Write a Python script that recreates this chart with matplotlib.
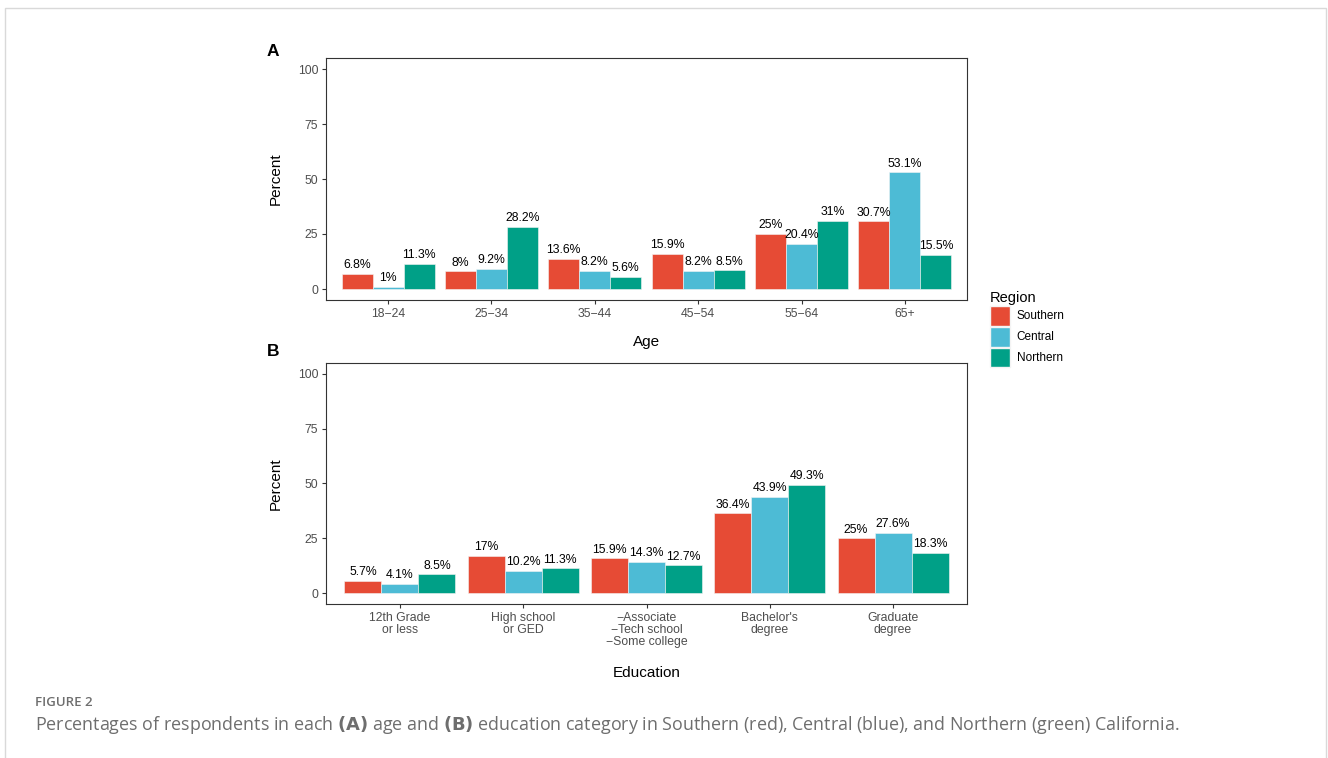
import matplotlib
matplotlib.use("Agg")
import matplotlib.pyplot as plt
import numpy as np
from matplotlib.patches import Rectangle, Patch

# Survey composition by region
regions = ["Southern", "Central", "Northern"]
colors = ["#E64B35", "#4DBBD5", "#00A087"]

age_labels = ["18\u221224", "25\u221234", "35\u221244", "45\u221254", "55\u221264", "65+"]
age_southern = [6.8, 8.0, 13.6, 15.9, 25.0, 30.7]
age_central = [1.0, 9.2, 8.2, 8.2, 20.4, 53.1]
age_northern = [11.3, 28.2, 5.6, 8.5, 31.0, 15.5]

edu_labels = ["12th Grade\nor less", "High school\nor GED",
              "\u2212Associate\n\u2212Tech school\n\u2212Some college",
              "Bachelor's\ndegree", "Graduate\ndegree"]
edu_southern = [5.7, 17.0, 15.9, 36.4, 25.0]
edu_central = [4.1, 10.2, 14.3, 43.9, 27.6]
edu_northern = [8.5, 11.3, 12.7, 49.3, 18.3]

y_ticks = [0, 25, 50, 75, 100]

W, H = 1328, 758
fig = plt.figure(figsize=(W / 100, H / 100), dpi=100)
plt.rcParams["font.family"] = ["Liberation Sans", "DejaVu Sans"]


def px_axes(left, top, right, bottom):
    return fig.add_axes([left / W, 1 - bottom / H, (right - left) / W, (bottom - top) / H])


def fmt(v):
    s = f"{v:.1f}"
    if s.endswith(".0"):
        s = s[:-2]
    return s + "%"


def draw_panel(ax, labels, series, xlabel):
    n = len(labels)
    x = np.arange(1, n + 1)
    w = 0.3
    for i, (vals, c) in enumerate(zip(series, colors)):
        xs = x + (i - 1) * w
        ax.bar(xs, vals, width=w, color=c, edgecolor="#F4F4F4", linewidth=0.4)
        for xi, v in zip(xs, vals):
            ax.text(xi, v + 1.2, fmt(v), ha="center", va="bottom",
                    fontsize=8.8, color="black")
    ax.set_xlim(0.4, n + 0.6)
    ax.set_ylim(-5, 105)
    ax.set_xticks(x)
    ax.set_xticklabels(labels, fontsize=8.8, color="#4D4D4D", linespacing=1.0)
    ax.set_yticks(y_ticks)
    ax.set_yticklabels([str(t) for t in y_ticks], fontsize=8.8, color="#4D4D4D")
    ax.tick_params(axis="both", length=3, width=0.8, color="#333333", pad=2.5)
    for sp in ax.spines.values():
        sp.set_color("#333333")
        sp.set_linewidth(0.8)
    ax.set_ylabel("Percent", fontsize=11, labelpad=11)
    ax.set_xlabel(xlabel, fontsize=11)


axA = px_axes(326, 58, 967, 300)
draw_panel(axA, age_labels, [age_southern, age_central, age_northern], "Age")
axA.xaxis.labelpad = 11

axB = px_axes(326, 363, 967, 604)
draw_panel(axB, edu_labels, [edu_southern, edu_central, edu_northern], "Education")
axB.xaxis.labelpad = 13

fig.text(267 / W, 1 - 52 / H, "A", fontsize=12.5, fontweight="bold", va="center", ha="left")
fig.text(267 / W, 1 - 352 / H, "B", fontsize=12.5, fontweight="bold", va="center", ha="left")

# Legend
handles = [Patch(facecolor=c, edgecolor="#F4F4F4", label=r) for r, c in zip(regions, colors)]
leg = fig.legend(handles=handles, title="Region", loc="upper left",
                 bbox_to_anchor=(979 / W, 1 - 280 / H), frameon=False,
                 fontsize=8.5, title_fontsize=10.5, handlelength=1.7, handleheight=2.2,
                 handletextpad=0.6, labelspacing=0.1, borderaxespad=0.5)
leg._legend_box.align = "left"

# Page frame and caption
fig.patches.append(Rectangle((5 / W, -0.05), (1326 - 5) / W, 1 - 8 / H + 0.05,
                             transform=fig.transFigure, fill=False,
                             edgecolor="#D9D9D9", linewidth=1.0))
cap_font = ["Open Sans", "DejaVu Sans"]
fig.text(35 / W, 1 - 702 / H, "FIGURE 2", fontsize=9.5, color="#6E6E6E",
         family=cap_font, fontweight="semibold", va="center", ha="left")
fig.text(35 / W, 1 - 725 / H,
         r"Percentages of respondents in each $\mathbf{(A)}$ age and $\mathbf{(B)}$ education "
         r"category in Southern (red), Central (blue), and Northern (green) California.",
         fontsize=12.9, color="#6E6E6E", family=cap_font, va="center", ha="left")

fig.savefig("out.png", dpi=100)
